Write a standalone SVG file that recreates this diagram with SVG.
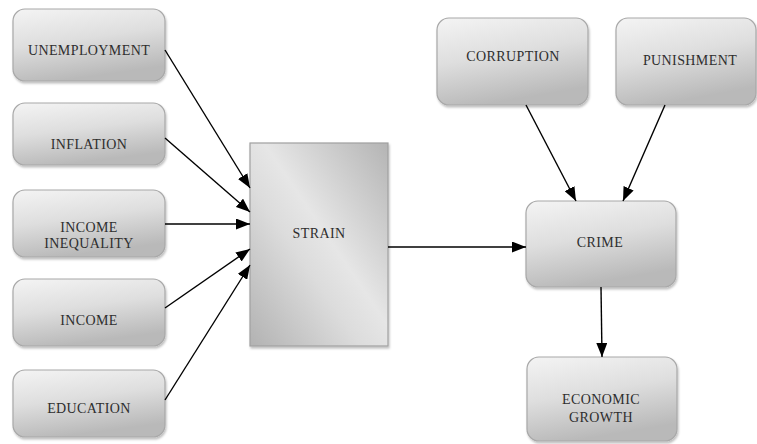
<svg xmlns="http://www.w3.org/2000/svg" width="757" height="444" viewBox="0 0 757 444">
<defs>
<linearGradient id="boxGrad" x1="0" y1="0" x2="0.3" y2="1">
<stop offset="0" stop-color="#f4f4f4"/>
<stop offset="0.5" stop-color="#dedede"/>
<stop offset="1" stop-color="#b9b9b9"/>
</linearGradient>
<linearGradient id="strainGrad" x1="1" y1="0" x2="0" y2="1">
<stop offset="0" stop-color="#b4b4b4"/>
<stop offset="0.45" stop-color="#e6e6e6"/>
<stop offset="0.6" stop-color="#dcdcdc"/>
<stop offset="1" stop-color="#b2b2b2"/>
</linearGradient>
<filter id="shadow" x="-10%" y="-10%" width="120%" height="120%">
<feDropShadow dx="1" dy="2" stdDeviation="1.2" flood-color="#000" flood-opacity="0.25"/>
</filter>
<marker id="arrow" markerWidth="14" markerHeight="11" refX="14" refY="5.5" orient="auto" markerUnits="userSpaceOnUse">
<path d="M0,0 L14,5.5 L0,11 Z" fill="#000"/>
</marker>
<style>
.box{fill:url(#boxGrad);stroke:#a8a8a8;stroke-width:1.2;filter:url(#shadow);}
.strain{fill:url(#strainGrad);stroke:#a0a0a0;stroke-width:1.2;filter:url(#shadow);}
.lbl{font-family:"Liberation Serif","Times New Roman",serif;font-size:14px;fill:#2e2e2e;text-anchor:middle;letter-spacing:0.4px;}
.conn{stroke:#000;stroke-width:1.4;fill:none;marker-end:url(#arrow);}
</style>
</defs>

<g id="unemployment">
<rect class="box" x="13" y="9" width="152" height="72" rx="12"/>
<text class="lbl" x="89" y="55">UNEMPLOYMENT</text>
</g>
<g id="inflation">
<rect class="box" x="13" y="103" width="152" height="62" rx="12"/>
<text class="lbl" x="89" y="149">INFLATION</text>
</g>
<g id="income-inequality">
<rect class="box" x="13" y="190" width="152" height="67" rx="12"/>
<text class="lbl" x="89" y="232">INCOME</text>
<text class="lbl" x="89" y="248">INEQUALITY</text>
</g>
<g id="income">
<rect class="box" x="13" y="279" width="152" height="67" rx="12"/>
<text class="lbl" x="89" y="325">INCOME</text>
</g>
<g id="education">
<rect class="box" x="13" y="370" width="152" height="67" rx="12"/>
<text class="lbl" x="89" y="413">EDUCATION</text>
</g>
<g id="strain">
<rect class="strain" x="250" y="143" width="138" height="203"/>
<text class="lbl" x="319" y="238">STRAIN</text>
</g>
<g id="corruption">
<rect class="box" x="437" y="18" width="151" height="87" rx="12"/>
<text class="lbl" x="513" y="61">CORRUPTION</text>
</g>
<g id="punishment">
<rect class="box" x="616" y="18" width="140" height="87" rx="12"/>
<text class="lbl" x="690" y="65">PUNISHMENT</text>
</g>
<g id="crime">
<rect class="box" x="526" y="201" width="150" height="86" rx="12"/>
<text class="lbl" x="600" y="247">CRIME</text>
</g>
<g id="economic-growth">
<rect class="box" x="527" y="357" width="150" height="84" rx="12"/>
<text class="lbl" x="601" y="404">ECONOMIC</text>
<text class="lbl" x="601" y="422">GROWTH</text>
</g>

<g id="connectors">
<line class="conn" x1="165" y1="50" x2="250" y2="188"/>
<line class="conn" x1="165" y1="138" x2="250" y2="212"/>
<line class="conn" x1="165" y1="224" x2="250" y2="224"/>
<line class="conn" x1="165" y1="308" x2="250" y2="249"/>
<line class="conn" x1="165" y1="400" x2="250" y2="265"/>
<line class="conn" x1="388" y1="247" x2="526" y2="247"/>
<line class="conn" x1="526" y1="105" x2="576" y2="201"/>
<line class="conn" x1="665" y1="105" x2="623" y2="201"/>
<line class="conn" x1="601" y1="287" x2="602" y2="357"/>
</g>
</svg>
